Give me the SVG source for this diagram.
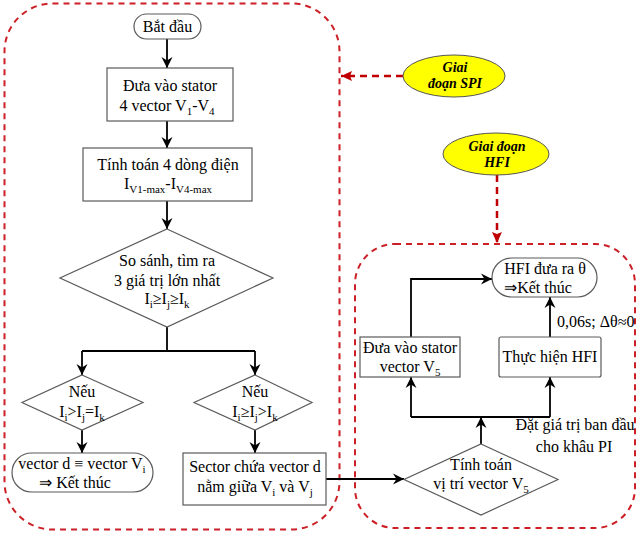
<svg xmlns="http://www.w3.org/2000/svg" width="638" height="533" viewBox="0 0 638 533">
<defs>
<marker id="ah" markerUnits="userSpaceOnUse" markerWidth="12" markerHeight="12" viewBox="0 0 12 12" refX="11" refY="6" orient="auto">
<path d="M0,0.5 L11,6 L0,11.5 L3.5,6 z" fill="#000"/>
</marker>
<marker id="rh" markerUnits="userSpaceOnUse" markerWidth="12" markerHeight="12" viewBox="0 0 12 12" refX="11" refY="6" orient="auto">
<path d="M0,1 L11,6 L0,11 L2,6 z" fill="#c00000"/>
</marker>
<style>
.grp{fill:none;stroke:#cc1f26;stroke-width:2;stroke-dasharray:6 5}
.rd{fill:none;stroke:#c00000;stroke-width:2.5;stroke-dasharray:7 5}
.bx{fill:#fff;stroke:#5a5a5a;stroke-width:1.2}
.el{fill:#ffff00;stroke:#555;stroke-width:1}
.ln{fill:none;stroke:#000;stroke-width:1.8}
.ar{fill:none;stroke:#000;stroke-width:1.8;marker-end:url(#ah)}
text{font-family:"Liberation Serif","Times New Roman",serif;font-size:16px;fill:#000;text-anchor:middle}
.it{font-weight:bold;font-style:italic;font-size:14px}
.sb{font-size:11px}
.st{text-anchor:start}
</style>
</defs>

<g id="groups">
<rect class="grp" x="4.5" y="3.5" width="335" height="526" rx="48" ry="48"/>
<rect class="grp" x="355" y="244" width="280" height="284" rx="40" ry="40"/>
</g>

<g id="connectors">
<line class="ar" x1="167" y1="39" x2="167" y2="68"/>
<line class="ar" x1="167" y1="121" x2="167" y2="148"/>
<line class="ar" x1="167" y1="201" x2="167" y2="229"/>
<polyline class="ln" points="167,327 167,351"/>
<line class="ln" x1="82" y1="351" x2="255" y2="351"/>
<line class="ar" x1="82" y1="351" x2="82" y2="375"/>
<line class="ar" x1="255" y1="351" x2="255" y2="375"/>
<line class="ar" x1="82" y1="430" x2="82" y2="453"/>
<line class="ar" x1="255" y1="430" x2="255" y2="453"/>
<line class="ar" x1="326" y1="479" x2="404" y2="479"/>
<line class="ar" x1="481" y1="444" x2="481" y2="417"/>
<line class="ln" x1="411" y1="417" x2="550" y2="417"/>
<line class="ar" x1="411" y1="417" x2="411" y2="377"/>
<line class="ar" x1="550" y1="417" x2="550" y2="377"/>
<polyline class="ar" points="411,337 411,279 492,279"/>
<line class="ar" x1="550" y1="337" x2="550" y2="297"/>
<line class="rd" x1="403" y1="76" x2="341" y2="76" marker-end="url(#rh)"/>
<line class="rd" x1="497" y1="175" x2="497" y2="243" marker-end="url(#rh)"/>
<text class="st" x="557" y="327">0,06s; Δθ≈0</text>
<text x="575" y="430">Đặt giá trị ban đầu</text>
<text x="574" y="452">cho khâu PI</text>
</g>

<g id="start">
<rect class="bx" x="134" y="14" width="67" height="25" rx="12.5"/>
<text x="167.5" y="32">Bắt đầu</text>
</g>

<g id="step1">
<rect class="bx" x="107" y="68" width="126" height="53"/>
<text x="170" y="91">Đưa vào stator</text>
<text x="167" y="111">4 vector V<tspan class="sb" dy="4">1</tspan><tspan dy="-4">-V</tspan><tspan class="sb" dy="4">4</tspan></text>
</g>

<g id="step2">
<rect class="bx" x="83" y="148" width="169" height="53"/>
<text x="168" y="170">Tính toán 4 dòng điện</text>
<text x="168" y="189">I<tspan class="sb" dy="4">V1-max</tspan><tspan dy="-4">-I</tspan><tspan class="sb" dy="4">V4-max</tspan></text>
</g>

<g id="compare">
<polygon class="bx" points="167,229 273,278 167,327 60,278"/>
<text x="167" y="266">So sánh, tìm ra</text>
<text x="167" y="286">3 giá trị lớn nhất</text>
<text x="167" y="304">I<tspan class="sb" dy="4">i</tspan><tspan dy="-4">≥I</tspan><tspan class="sb" dy="4">j</tspan><tspan dy="-4">≥I</tspan><tspan class="sb" dy="4">k</tspan></text>
</g>

<g id="cond1">
<polygon class="bx" points="82,375 143,402.5 82,430 22,402.5"/>
<text x="82" y="397">Nếu</text>
<text x="82" y="417">I<tspan class="sb" dy="4">i</tspan><tspan dy="-4">&gt;I</tspan><tspan class="sb" dy="4">j</tspan><tspan dy="-4">=I</tspan><tspan class="sb" dy="4">k</tspan></text>
</g>

<g id="cond2">
<polygon class="bx" points="255,375 312,402.5 255,430 194,402.5"/>
<text x="255" y="397">Nếu</text>
<text x="255" y="417">I<tspan class="sb" dy="4">i</tspan><tspan dy="-4">≥I</tspan><tspan class="sb" dy="4">j</tspan><tspan dy="-4">&gt;I</tspan><tspan class="sb" dy="4">k</tspan></text>
</g>

<g id="end1">
<rect class="bx" x="12" y="453" width="141" height="39" rx="19.5"/>
<text x="82" y="469">vector d ≡ vector V<tspan class="sb" dy="4">i</tspan></text>
<text x="75" y="488">⇒ Kết thúc</text>
</g>

<g id="sector">
<rect class="bx" x="183" y="453" width="143" height="52"/>
<text x="255" y="472">Sector chứa vector d</text>
<text x="255" y="492">nằm giữa V<tspan class="sb" dy="4">i</tspan><tspan dy="-4"> và V</tspan><tspan class="sb" dy="4">j</tspan></text>
</g>

<g id="calcV5">
<polygon class="bx" points="481,444 558,479.5 481,515 404,479.5"/>
<text x="481" y="470">Tính toán</text>
<text x="481" y="489">vị trí vector V<tspan class="sb" dy="4">5</tspan></text>
</g>

<g id="applyV5">
<rect class="bx" x="360" y="337" width="100" height="40"/>
<text x="410" y="353">Đưa vào stator</text>
<text x="410" y="372">vector V<tspan class="sb" dy="4">5</tspan></text>
</g>

<g id="hfi">
<rect class="bx" x="499" y="337" width="102" height="40" rx="2"/>
<text x="550" y="362">Thực hiện HFI</text>
</g>

<g id="end2">
<rect class="bx" x="492" y="258" width="105" height="39" rx="19.5"/>
<text x="545" y="274">HFI đưa ra θ</text>
<text x="538" y="293">⇒Kết thúc</text>
</g>

<g id="labelSPI">
<ellipse class="el" cx="454" cy="76" rx="51" ry="21"/>
<text class="it" x="455" y="72">Giai</text>
<text class="it" x="455" y="88">đoạn SPI</text>
</g>

<g id="labelHFI">
<ellipse class="el" cx="496" cy="154" rx="53" ry="21"/>
<text class="it" x="497" y="151">Giai đoạn</text>
<text class="it" x="497" y="167">HFI</text>
</g>
</svg>
